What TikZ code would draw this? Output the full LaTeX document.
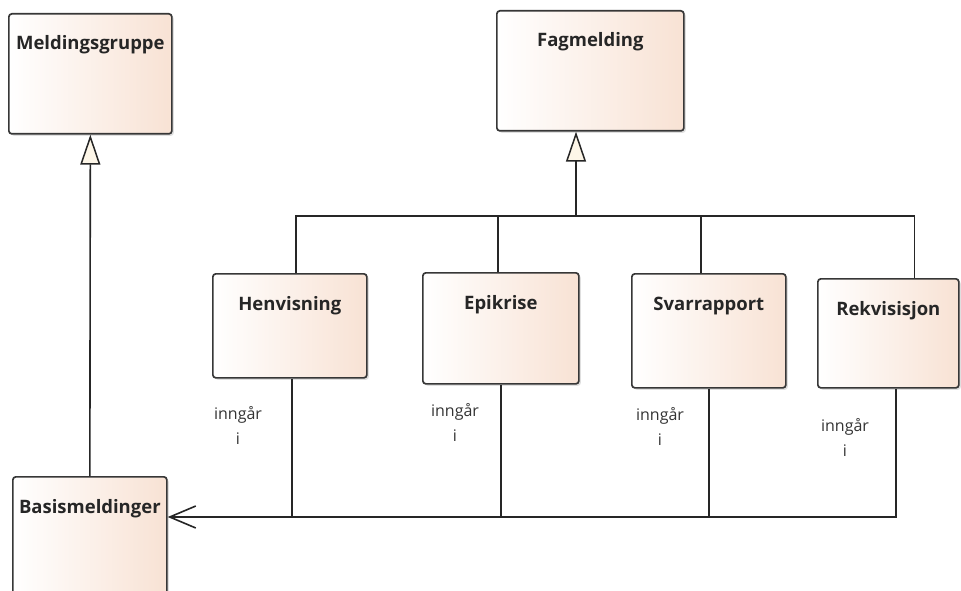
\documentclass[tikz,border=0pt]{standalone}
\usepackage{fontspec}
\setmainfont{Open Sans}
\usetikzlibrary{arrows.meta,shadows}
\definecolor{peach}{RGB}{248,226,212}
\definecolor{cream}{RGB}{253,246,232}
\definecolor{edge}{RGB}{55,55,55}
\tikzset{
 cls/.style={draw=edge, line width=1.7pt, rounded corners=3pt, left color=white, right color=peach, anchor=north west, inner sep=0pt,
   drop shadow={opacity=0.25, shadow xshift=2pt, shadow yshift=-2pt}},
 ttl/.style={font=\bfseries\fontsize{18.5}{20}\selectfont, text=black!85, anchor=base, yshift=-37pt},
 lbl/.style={font=\fontsize{16}{25}\selectfont, align=center, text=black!80},
 conn/.style={line width=1.6pt, draw=black!85},
 gen/.style={conn, -{Triangle[length=30pt,width=20pt,fill=cream,line width=1.5pt]}},
 assoc/.style={conn, -{Straight Barb[length=26pt,width=22pt,line width=1.6pt]}}
}
\begin{document}
\begin{tikzpicture}[x=1pt,y=-1pt]
\useasboundingbox (0,0) rectangle (961,591);
\clip (0,0) rectangle (961,591);
\node[cls, minimum width=163pt, minimum height=120pt, label={[ttl]north:Meldingsgruppe}] (mg) at (8,13) {};
\node[cls, minimum width=187pt, minimum height=120pt, label={[ttl]north:Fagmelding}] (fag) at (496,10) {};
\node[cls, minimum width=154pt, minimum height=104pt, label={[ttl]north:Henvisning}] (hen) at (212,273) {};
\node[cls, minimum width=156pt, minimum height=111pt, label={[ttl]north:Epikrise}] (epi) at (422,272) {};
\node[cls, minimum width=154pt, minimum height=114pt, label={[ttl]north:Svarrapport}] (sva) at (631,273) {};
\node[cls, minimum width=141pt, minimum height=109pt, label={[ttl]north:Rekvisisjon}] (rek) at (817,278) {};
\node[cls, minimum width=154pt, minimum height=140pt, label={[ttl]north:Basismeldinger}] (bas) at (12,476) {};
% generalizations
\draw[gen] (bas.north) -- (mg.south);
\coordinate (J) at (576,216);
\draw[gen] (J) -- (J |- fag.south);
\draw[conn] ([xshift=6pt]hen.north) |- ([xshift=26pt]rek.north |- J) -- ([xshift=26pt]rek.north);
\draw[conn] ([xshift=-3pt]epi.north) -- ([xshift=-3pt]epi.north |- J);
\draw[conn] ([xshift=-8pt]sva.north) -- ([xshift=-8pt]sva.north |- J);
% associations
\coordinate (bus) at ([yshift=-41pt]bas.north east);
\draw[assoc] ([xshift=7.5pt]rek.south) |- (bus);
\draw[conn] ([xshift=2pt]hen.south) -- ([xshift=2pt]hen.south |- bus);
\draw[conn] (epi.south) -- (epi.south |- bus);
\draw[conn] (sva.south) -- (sva.south |- bus);
% labels
\node[lbl] (l1) at (238,425) {inngår\\i};
\node[lbl] (l2) at (455,422) {inngår\\i};
\node[lbl] (l3) at (660,426) {inngår\\i};
\node[lbl] (l4) at (845,437) {inngår\\i};
\end{tikzpicture}
\end{document}
